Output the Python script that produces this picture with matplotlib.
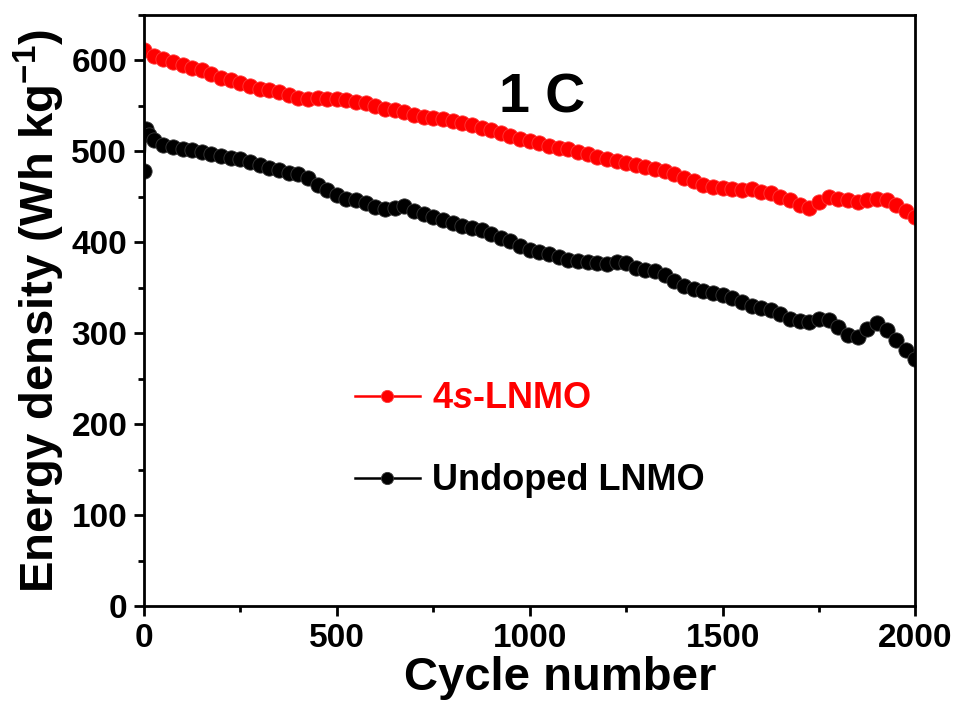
import matplotlib
matplotlib.use("Agg")
import matplotlib.pyplot as plt
import numpy as np

plt.rcParams['font.family'] = ['Liberation Sans', 'DejaVu Sans']
plt.rcParams['font.weight'] = 'bold'
plt.rcParams['mathtext.fontset'] = 'custom'
plt.rcParams['mathtext.it'] = 'Liberation Sans:italic:bold'
plt.rcParams['mathtext.rm'] = 'Liberation Sans:bold'
plt.rcParams['mathtext.default'] = 'regular'

# 4s-LNMO, read every 25 cycles
red_cycles = np.arange(0, 2001, 25)
red_energy = [611, 605, 601, 598, 595, 592, 589, 585, 581, 578,
              575, 572, 569, 567, 565, 562, 559, 558, 559, 557,
              557, 556, 554, 553, 550, 547, 545, 543, 540, 538,
              537, 535, 533, 531, 529, 526, 523, 520, 517, 514,
              511, 509, 506, 504, 502, 499, 497, 494, 492, 489,
              487, 485, 483, 480, 478, 475, 471, 467, 463, 461,
              460, 459, 457, 458, 455, 454, 450, 446, 441, 438,
              444, 450, 447, 446, 444, 446, 447, 446, 441, 434,
              428]

# undoped LNMO
black_cycles = [0, 5, 12] + list(range(25, 2001, 25))
black_energy = [478, 525, 518,
                512, 507, 505, 503, 501, 499, 497, 495, 493, 491,
                488, 485, 482, 479, 476, 475, 471, 463, 457, 452,
                448, 446, 443, 439, 437, 438, 440, 434, 431, 428,
                424, 421, 418, 416, 413, 409, 405, 401, 396, 392,
                389, 387, 384, 381, 379, 378, 377, 376, 378, 377,
                372, 370, 368, 364, 357, 352, 349, 346, 344, 342,
                339, 334, 330, 328, 325, 321, 316, 313, 312, 316,
                315, 307, 298, 296, 305, 311, 303, 292, 282, 272]

fig = plt.figure(figsize=(9.56, 7.08), dpi=100)
ax = fig.add_axes([0.1506, 0.144, 0.807, 0.835])

ax.plot(red_cycles, red_energy, '-o', color='red', lw=1.8, ms=11,
        mec='#ff3a3a', mew=0.6, label=r'4$\mathit{s}$-LNMO')
ax.plot(black_cycles, black_energy, '-o', color='black', lw=1.8, ms=11,
        mec='#383838', mew=0.6, label='Undoped LNMO')

ax.set_xlim(0, 2000)
ax.set_ylim(0, 650)
ax.set_xticks([0, 500, 1000, 1500, 2000])
ax.set_xticks([250, 750, 1250, 1750], minor=True)
ax.set_yticks(range(0, 601, 100))
ax.set_yticks(range(50, 651, 100), minor=True)

for s in ax.spines.values():
    s.set_linewidth(2)
ax.tick_params(which='major', direction='out', length=7, width=2, pad=5)
ax.tick_params(which='minor', direction='out', length=4, width=2)
for lab in ax.get_xticklabels() + ax.get_yticklabels():
    lab.set_fontsize(24)
    lab.set_fontweight('bold')

ax.set_xlabel('Cycle number', fontsize=34, fontweight='bold')
ax.xaxis.set_label_coords(0.54, -0.085)
ax.set_ylabel(r'Energy density (Wh kg$^{-1}$)', fontsize=34, fontweight='bold')
ax.yaxis.set_label_coords(-0.1, 0.5)

ax.text(1032, 558, '1 C', fontsize=40, fontweight='bold', ha='center', va='center')

leg = ax.legend(loc='center left', bbox_to_anchor=(0.273, 0.281), frameon=False,
                fontsize=26, numpoints=1, handlelength=1.8, handletextpad=0.35,
                labelspacing=1.3, borderpad=0, borderaxespad=0, markerscale=0.8)
leg.get_texts()[0].set_color('red')
leg.get_texts()[1].set_color('black')

fig.savefig('out.png', dpi=100)
